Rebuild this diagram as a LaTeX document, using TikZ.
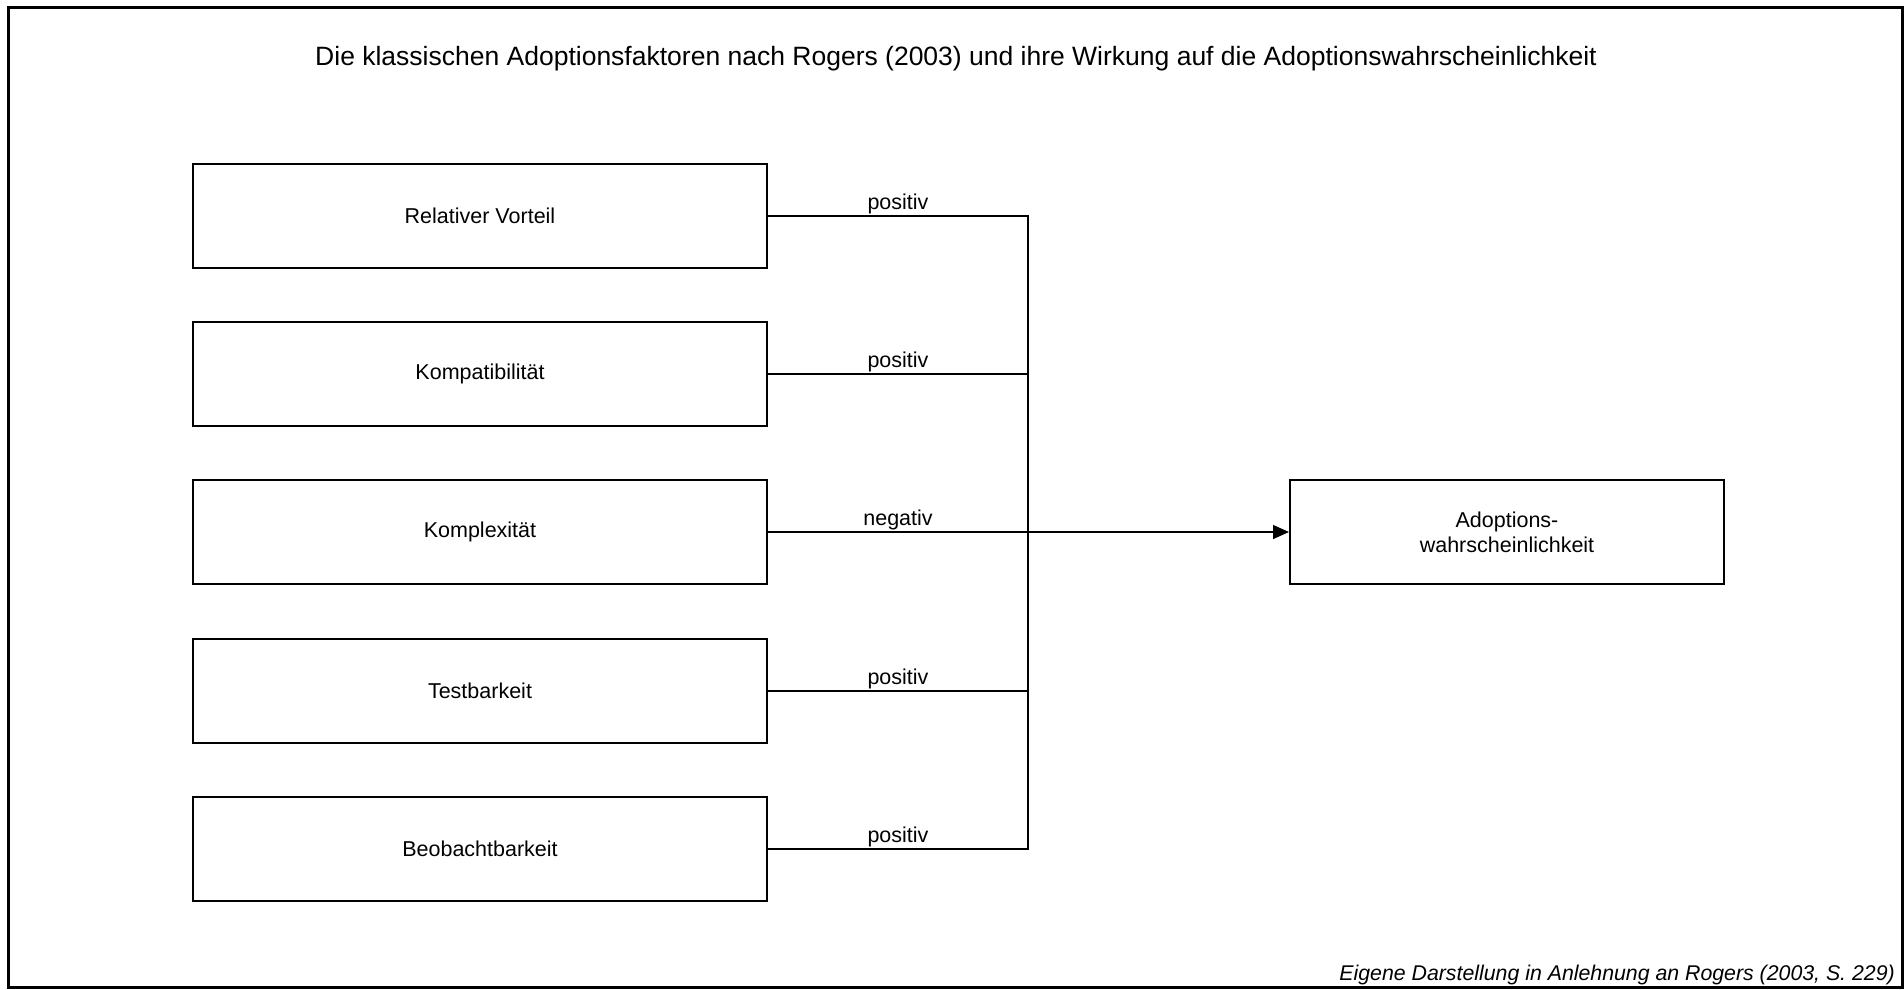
\documentclass[tikz,border=0pt]{standalone}
\usepackage{fontspec}
\setmainfont{Liberation Sans}
\usetikzlibrary{arrows.meta}
\begin{document}
\begin{tikzpicture}[x=1pt,y=-1pt,
  factor/.style={draw, line width=2pt, minimum width=574pt, minimum height=104pt, inner sep=0pt, font=\fontsize{21.5}{25}\selectfont, align=center},
  conn/.style={line width=2pt},
  lbl/.style={font=\fontsize{21.5}{25}\selectfont, above, inner sep=0pt, yshift=1pt},
  conn/.style={line width=2pt}]
\useasboundingbox (0,0) rectangle (1904,989);
\draw[line width=3pt] (8.5,7.5) rectangle (1902.5,987.5);
\node[font=\fontsize{26.5}{30}\selectfont] (title) at (956,59) {Die klassischen Adoptionsfaktoren nach Rogers (2003) und ihre Wirkung auf die Adoptionswahrscheinlichkeit};
\node[factor] (f1) at (480,216) {Relativer Vorteil};
\node[factor] (f2) at (480,374) {Kompatibilität};
\node[factor] (f3) at (480,532) {Komplexität};
\node[factor] (f4) at (480,691) {Testbarkeit};
\node[factor] (f5) at (480,849) {Beobachtbarkeit};
\node[factor, minimum width=434pt] (ad) at (1507,532) {Adoptions-\\wahrscheinlichkeit};
\coordinate (j1) at (1028,216);
\coordinate (j2) at (1028,374);
\coordinate (j3) at (1028,532);
\coordinate (j4) at (1028,691);
\coordinate (j5) at (1028,849);
\draw[conn] (f1.east) -- node[lbl]{positiv} (j1);
\draw[conn] (f2.east) -- node[lbl]{positiv} (j2);
\draw[conn] (f3.east) -- node[lbl]{negativ} (j3);
\draw[conn] (f4.east) -- node[lbl]{positiv} (j4);
\draw[conn] (f5.east) -- node[lbl]{positiv} (j5);
\draw[conn, line cap=rect] (j1) -- (j5);
\draw[line width=1.2pt, -{Triangle[length=16pt, width=14pt]}] (j3) -- (ad.west);
\node[font=\itshape\fontsize{21.3}{25}\selectfont, anchor=base east, inner sep=0pt] (src) at (1895,980) {Eigene Darstellung in Anlehnung an Rogers (2003, S. 229)};
\end{tikzpicture}
\end{document}
